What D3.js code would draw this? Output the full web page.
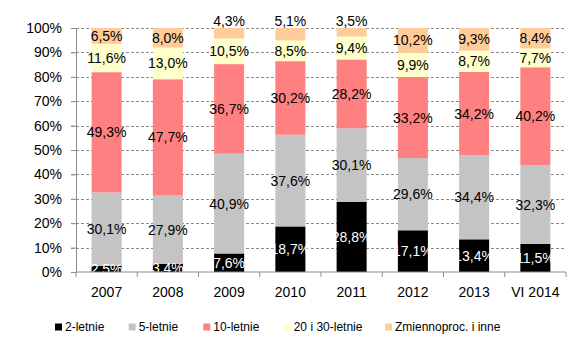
<!DOCTYPE html>
<html>
<head>
<meta charset="utf-8">
<script src="https://cdn.jsdelivr.net/npm/d3@7"></script>
<style>
  body { margin: 0; background: #fff; }
  svg text { font-family: "Liberation Sans", Arial, sans-serif; }
</style>
</head>
<body>
<div id="chart"></div>
<script>
'use strict';

// structure of debt by maturity, share in %
let years = ['2007', '2008', '2009', '2010', '2011', '2012', '2013', 'VI 2014'];
let seriesNames = ['2-letnie', '5-letnie', '10-letnie', '20 i 30-letnie', 'Zmiennoproc. i inne'];
let twoYear   = [2.5, 3.4, 7.6, 18.7, 28.8, 17.1, 13.4, 11.5];
let fiveYear  = [30.1, 27.9, 40.9, 37.6, 30.1, 29.6, 34.4, 32.3];
let tenYear   = [49.3, 47.7, 36.7, 30.2, 28.2, 33.2, 34.2, 40.2];
let longYear  = [11.6, 13.0, 10.5, 8.5, 9.4, 9.9, 8.7, 7.7];
let floating  = [6.5, 8.0, 4.3, 5.1, 3.5, 10.2, 9.3, 8.4];
let yTicks = [0, 10, 20, 30, 40, 50, 60, 70, 80, 90, 100];

let colors = ['#000000', '#c4c4c4', '#ff8080', '#ffffcc', '#ffcc99'];

let rows = years.map((y, i) => ({
	year: y,
	'2-letnie': twoYear[i],
	'5-letnie': fiveYear[i],
	'10-letnie': tenYear[i],
	'20 i 30-letnie': longYear[i],
	'Zmiennoproc. i inne': floating[i]
}));

let width = 573, height = 348;
let margin = {top: 28, right: 7, bottom: 76, left: 76};

let svg = d3.select('#chart').append('svg')
	.attr('width', width)
	.attr('height', height);

let x = d3.scaleBand()
	.domain(years)
	.range([margin.left, width - margin.right])
	.paddingInner(0.51)
	.paddingOuter(0.255);

let y = d3.scaleLinear()
	.domain([0, 100])
	.range([height - margin.bottom, margin.top]);

// 100% stacked columns
let stack = d3.stack().keys(seriesNames).offset(d3.stackOffsetExpand);
let layers = stack(rows);

// gridlines
svg.append('g')
	.selectAll('line')
	.data(yTicks.filter(t => t > 0))
	.join('line')
	.attr('x1', margin.left - 5)
	.attr('x2', width - margin.right)
	.attr('y1', d => Math.round(y(d)) + 0.5)
	.attr('y2', d => Math.round(y(d)) + 0.5)
	.attr('stroke', '#8c8c8c')
	.attr('stroke-dasharray', '3,2');

let groups = svg.append('g')
	.selectAll('g')
	.data(layers)
	.join('g')
	.attr('fill', (d, i) => colors[i]);

groups.selectAll('rect')
	.data(d => d)
	.join('rect')
	.attr('x', d => x(d.data.year))
	.attr('width', x.bandwidth())
	.attr('y', d => y(d[1] * 100))
	.attr('height', d => y(d[0] * 100) - y(d[1] * 100));

// value labels
let labels = svg.append('g')
	.attr('font-size', 14)
	.attr('text-anchor', 'middle');

layers.forEach((layer, li) => {
	let last = li === layers.length - 1;
	labels.selectAll('text.s' + li)
		.data(layer)
		.join('text')
		.attr('class', 's' + li)
		.attr('x', d => x(d.data.year) + x.bandwidth() / 2)
		.attr('y', d => {
			let v = d.data[layer.key];
			if (last && v < 6) return y(100) - 7;
			return y((d[0] + d[1]) / 2 * 100);
		})
		.attr('dy', '0.36em')
		.attr('fill', li === 0 ? '#fff' : '#000')
		.text(d => d3.format('.1f')(d.data[layer.key]).replace('.', ',') + '%');
});

// axes
let yAxis = svg.append('g')
	.attr('transform', `translate(${margin.left},0)`)
	.call(d3.axisLeft(y).tickValues(yTicks).tickSize(5).tickPadding(9).tickFormat(d => d + '%'));
yAxis.select('.domain').attr('stroke', '#8c8c8c');
yAxis.selectAll('.tick line').attr('stroke', '#8c8c8c');
yAxis.selectAll('text').attr('font-size', 14).attr('fill', '#000')
	.attr('font-family', '"Liberation Sans", Arial, sans-serif');

let xAxis = svg.append('g')
	.attr('transform', `translate(0,${height - margin.bottom})`);
xAxis.append('line')
	.attr('x1', margin.left).attr('x2', width - margin.right)
	.attr('stroke', '#8c8c8c');
let step = x.step();
xAxis.selectAll('line.tk')
	.data(d3.range(years.length + 1))
	.join('line')
	.attr('class', 'tk')
	.attr('x1', i => margin.left + i * step)
	.attr('x2', i => margin.left + i * step)
	.attr('y1', 0).attr('y2', 5)
	.attr('stroke', '#8c8c8c');
xAxis.selectAll('text')
	.data(years)
	.join('text')
	.attr('x', d => x(d) + x.bandwidth() / 2)
	.attr('y', 20)
	.attr('dy', '0.36em')
	.attr('text-anchor', 'middle')
	.attr('font-size', 14)
	.text(d => d);

// legend
let legendX = [55, 128.7, 203.3, 283.7, 385];
let legend = svg.append('g')
	.selectAll('g')
	.data(seriesNames)
	.join('g')
	.attr('transform', (d, i) => `translate(${legendX[i]},327)`);
legend.append('rect')
	.attr('y', -3.5)
	.attr('width', 7)
	.attr('height', 7)
	.attr('fill', (d, i) => colors[i]);
legend.append('text')
	.attr('x', 10)
	.attr('dy', '0.36em')
	.attr('font-size', 12)
	.text(d => d);
</script>
</body>
</html>
